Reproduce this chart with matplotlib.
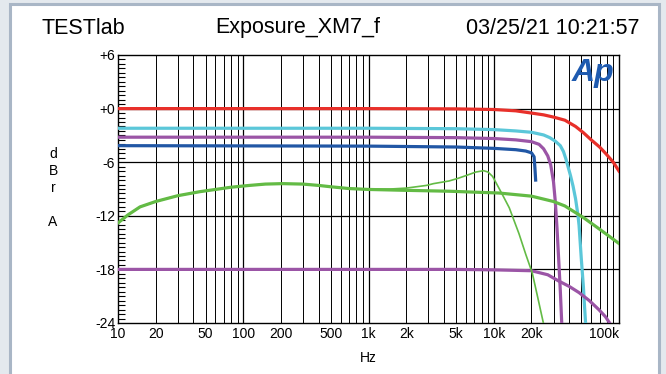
import matplotlib
matplotlib.use("Agg")
import matplotlib.pyplot as plt
from matplotlib.patches import Rectangle
from matplotlib.ticker import FixedLocator, NullFormatter

plt.rcParams['font.family'] = ['Liberation Sans', 'DejaVu Sans']

# ---- data (Hz, dBr A) ----
red_f = [10, 1000, 5000, 10000, 15000, 20000, 25000, 30000, 37000, 45000, 52000, 60000, 70000, 78000, 90000, 100000]
red_db = [0, 0, -0.03, -0.1, -0.25, -0.5, -0.7, -0.95, -1.3, -2.0, -2.7, -3.5, -4.3, -5.0, -6.0, -7.0]

cyan_f = [10, 1000, 5000, 10000, 15000, 20000, 25000, 28000, 31000, 34000, 36000, 37600, 39000, 41000,
          43000, 45000, 47000, 48000, 50000, 52000, 53000, 54300]
cyan_db = [-2.2, -2.2, -2.25, -2.35, -2.5, -2.65, -2.95, -3.25, -3.65, -4.15, -4.8, -5.6, -6.4, -7.5,
           -8.7, -10.1, -11.9, -13.1, -16.8, -20.0, -22.0, -24.4]

purple_f = [10, 1000, 5000, 10000, 15000, 20000, 23000, 25000, 27000, 28500, 30000, 31000, 32000, 33000, 34000, 35000]
purple_db = [-3.2, -3.2, -3.25, -3.35, -3.5, -3.7, -4.0, -4.5, -5.3, -6.3, -8.2, -10.4, -13.4, -16.9, -20.4, -24.4]

blue_f = [10, 1000, 5000, 10000, 15000, 18000, 20000, 21000, 21300, 21600]
blue_db = [-4.15, -4.2, -4.3, -4.45, -4.6, -4.75, -4.95, -5.4, -6.6, -8.0]

purple2_f = [10, 5000, 10000, 20000, 27000, 33000, 40000, 48000, 58000, 69000, 78000, 85000]
purple2_db = [-18.0, -18.0, -18.05, -18.15, -18.6, -19.3, -19.9, -20.6, -21.5, -22.5, -23.3, -24.1]

green_f = [10, 12, 15, 20, 30, 45, 60, 80, 112, 150, 206, 300, 400, 500, 700, 1000, 2000, 4400,
           11000, 20000, 30000, 37000, 52000, 70000, 100000]
green_db = [-12.8, -11.9, -11.0, -10.4, -9.75, -9.3, -9.05, -8.8, -8.6, -8.45, -8.4, -8.45, -8.6, -8.75,
            -8.95, -9.05, -9.15, -9.25, -9.45, -9.8, -10.4, -10.9, -12.2, -13.5, -15.1]

green2_f = [10, 12, 15, 20, 30, 45, 60, 80, 112, 150, 206, 300, 400, 500, 700, 1000, 1500, 2000, 2900,
            3300, 4400, 5200, 6000, 7200, 8300, 9000, 9800, 11000, 12000, 13300, 15900, 18000, 20300, 22500, 24900]
green2_db = [-12.8, -11.9, -11.0, -10.4, -9.75, -9.3, -9.05, -8.8, -8.6, -8.45, -8.4, -8.45, -8.6, -8.75,
             -8.95, -9.0, -9.0, -8.9, -8.6, -8.4, -8.1, -7.8, -7.5, -7.1, -6.95, -7.1, -7.6, -8.9, -9.9,
             -11.1, -14.0, -16.3, -18.4, -21.2, -24.0]

xtick_vals = [10, 20, 50, 100, 200, 500, 1000, 2000, 5000, 10000, 20000, 100000]
xtick_text = ['10', '20', '50', '100', '200', '500', '1k', '2k', '5k', '10k', '20k', '100k']
ytick_vals = [6, 0, -6, -12, -18, -24]
ytick_text = ['+6', '+0', '-6', '-12', '-18', '-24']

# ---- figure ----
W, H = 666, 374
fig = plt.figure(figsize=(W / 100, H / 100), dpi=100, facecolor='#e4e9ee')
panel = Rectangle((10 / W, -0.05), 649 / W, (H - 4) / H + 0.05, transform=fig.transFigure,
                  facecolor='white', edgecolor='#a9b6c6', linewidth=2.2, zorder=-10)
fig.add_artist(panel)

ax = fig.add_axes([118 / W, 51 / H, 501 / W, 268 / H])
ax.set_zorder(5)
ax.set_facecolor('white')
ax.set_xscale('log')
ax.set_xlim(10, 100000)
ax.set_ylim(-24, 6)

# grid
minor = [m * 10 ** d for d in range(1, 5) for m in range(2, 10)]
for f in minor:
    ax.axvline(f, color='black', lw=0.7, zorder=1)
for f in [100, 1000, 10000]:
    ax.axvline(f, color='black', lw=0.9, zorder=1)
for v in ytick_vals[1:-1]:
    ax.axhline(v, color='black', lw=0.9, zorder=1)

lw = 2.3
ax.plot(red_f, red_db, color='#e8302a', lw=lw, zorder=3)
ax.plot(cyan_f, cyan_db, color='#5bc7d9', lw=lw, zorder=3)
ax.plot(purple_f, purple_db, color='#9b55a6', lw=lw, zorder=3)
ax.plot(blue_f, blue_db, color='#2157a5', lw=lw, zorder=3)
ax.plot(purple2_f, purple2_db, color='#9b55a6', lw=lw, zorder=3)
ax.plot(green_f, green_db, color='#63bb45', lw=lw, zorder=3)
ax.plot(green2_f, green2_db, color='#63bb45', lw=1.2, zorder=3)

for s in ax.spines.values():
    s.set_linewidth(1.0)
    s.set_color('black')

ax.xaxis.set_major_locator(FixedLocator(xtick_vals))
ax.xaxis.set_minor_locator(FixedLocator([]))
ax.set_xticklabels(xtick_text)
ax.xaxis.set_minor_formatter(NullFormatter())
ax.tick_params(axis='x', length=0, labelsize=10, pad=3)
ax.get_xticklabels()[-1].set_horizontalalignment('right')

ax.set_yticks(ytick_vals)
ax.set_yticklabels(ytick_text)
ax.yaxis.set_minor_locator(FixedLocator([v / 2 for v in range(-48, 13)]))
ax.tick_params(axis='y', which='major', length=0, labelsize=10, pad=2)
ax.tick_params(axis='y', which='minor', direction='in', length=5, width=0.8, left=True)

# header
fig.text(83 / W, 1 - 28 / H, 'TESTlab', fontsize=15.5, ha='center', va='center')
fig.text(298 / W, 1 - 28 / H, 'Exposure_XM7_f', fontsize=15.5, ha='center', va='center')
fig.text(640 / W, 1 - 28 / H, '03/25/21 10:21:57', fontsize=15.5, ha='right', va='center')

fig.text(368 / W, 1 - 358 / H, 'Hz', fontsize=10, ha='center', va='center')
fig.text(53 / W, 1 - 188 / H, 'd\nB\nr\n\nA', fontsize=10, ha='center', va='center', linespacing=1.29)

fig.text(593 / W, 1 - 73 / H, 'Ap', fontsize=23, fontweight='bold', style='italic',
         color='#1f5bb0', ha='center', va='center', zorder=10)

fig.savefig('out.png', dpi=100, facecolor=fig.get_facecolor())
